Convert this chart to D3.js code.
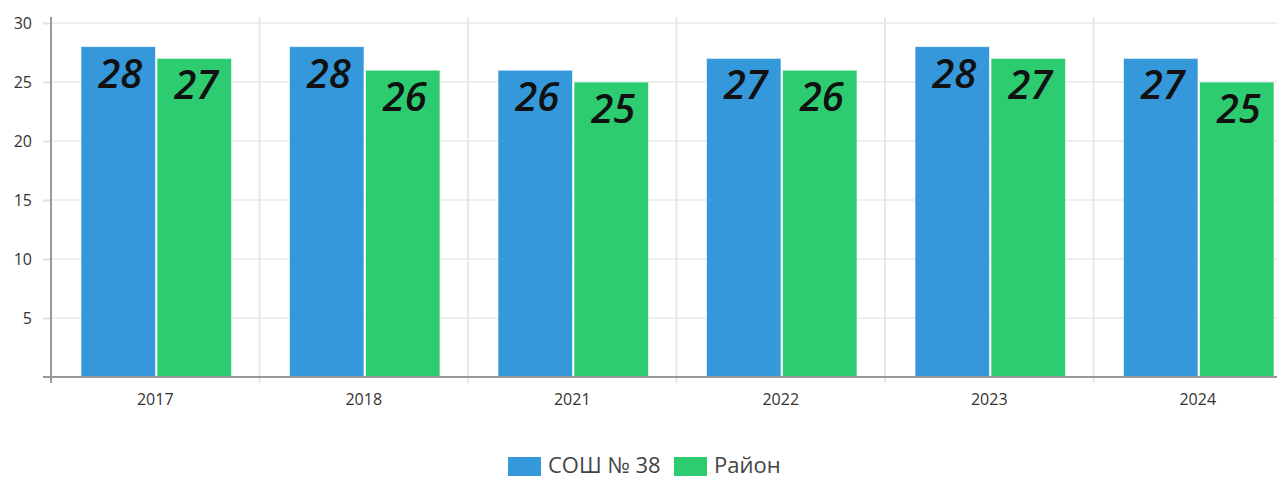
<!DOCTYPE html>
<html><head><meta charset="utf-8">
<script src="https://cdn.jsdelivr.net/npm/d3@7"></script>
<style>body{margin:0;background:#fff;overflow:hidden}svg{display:block}</style>
</head><body>
<svg id="c" width="1277" height="479"></svg>
<script>
const categories = ["2017","2018","2021","2022","2023","2024"];
const schoolValues = [28,28,26,27,28,27];
const districtValues = [27,26,25,26,27,25];
const seriesNames = ["СОШ № 38","Район"];
const yTicks = [5,10,15,20,25,30];
const colors = ["#3598db","#2ecc71"];

(function(){
const svg = d3.select("#c");
const mLeft = 51, mTop = 23, mBottom = 377;
const bandW = 208.5;
const x = d3.scaleBand().domain(categories).range([mLeft, mLeft + bandW*categories.length]).paddingInner(0).paddingOuter(0);
const y = d3.scaleLinear().domain([0,30]).range([mBottom, mTop]);
const x1 = d3.scaleBand().domain([0,1]).range([30, bandW-28]).paddingOuter(0).paddingInner(0.02);

// horizontal gridlines
svg.append("g").selectAll("line").data(yTicks).join("line")
  .attr("x1", mLeft).attr("x2", 1277).attr("y1", d=>y(d)).attr("y2", d=>y(d))
  .attr("stroke", "#eeeeee").attr("stroke-width", 2);
// vertical gridlines
svg.append("g").selectAll("line").data(categories.slice(1)).join("line")
  .attr("x1", d=>x(d)).attr("x2", d=>x(d)).attr("y1", 17).attr("y2", 383)
  .attr("stroke", "#e8e8e8").attr("stroke-width", 2);

// bars
const series = [schoolValues, districtValues];
const g = svg.append("g");
series.forEach((vals, si) => {
  g.selectAll(".b"+si).data(categories).join("rect").attr("class","b"+si)
    .attr("x", d => x(d) + x1(si))
    .attr("width", x1.bandwidth())
    .attr("y", (d,i) => y(vals[i]))
    .attr("height", (d,i) => mBottom - y(vals[i]))
    .attr("fill", colors[si])
    .attr("stroke", "rgba(255,255,255,0.6)").attr("stroke-width", 1);
  g.selectAll(".l"+si).data(categories).join("text").attr("class","l"+si)
    .attr("x", d => x(d) + x1(si) + x1.bandwidth()/2 + 2)
    .attr("y", (d,i) => y(vals[i]) + 41)
    .attr("text-anchor", "middle")
    .attr("font-family", "Open Sans, sans-serif")
    .attr("font-style", "italic").attr("font-weight", 600)
    .attr("font-size", 40).attr("fill", "#111")
    .text((d,i) => vals[i]);
});

// y axis
const yAxis = d3.axisLeft(y).tickValues(yTicks).tickSize(8).tickPadding(11);
const ya = svg.append("g").attr("transform", `translate(${mLeft},0)`).call(yAxis);
ya.select(".domain").remove();
ya.selectAll(".tick line").attr("stroke", "#e0e0e0").attr("stroke-width", 2);
ya.selectAll("text").attr("font-family", "Open Sans, sans-serif").attr("font-size", 16).attr("fill", "#333");
svg.append("line").attr("x1", mLeft).attr("x2", mLeft).attr("y1", 17).attr("y2", 383)
  .attr("stroke", "#999").attr("stroke-width", 2);

// x axis
const xAxis = d3.axisBottom(x).tickSize(0).tickPadding(17);
const xa = svg.append("g").attr("transform", `translate(0,${mBottom})`).call(xAxis);
xa.select(".domain").remove();
xa.selectAll("text").attr("font-family", "Open Sans, sans-serif").attr("font-size", 16).attr("fill", "#333");
svg.append("line").attr("x1", 43).attr("x2", 1277).attr("y1", mBottom).attr("y2", mBottom)
  .attr("stroke", "#999").attr("stroke-width", 2);

// legend
const legendX = [508, 674];
const lg = svg.append("g");
seriesNames.forEach((n, i) => {
  lg.append("rect").attr("x", legendX[i]).attr("y", 457).attr("width", 33).attr("height", 19).attr("fill", colors[i]);
  lg.append("text").attr("x", legendX[i] + 40).attr("y", 473)
    .attr("font-family", "Open Sans, sans-serif").attr("font-size", 22).attr("fill", "#444").text(n);
});
})();
</script>
</body></html>
